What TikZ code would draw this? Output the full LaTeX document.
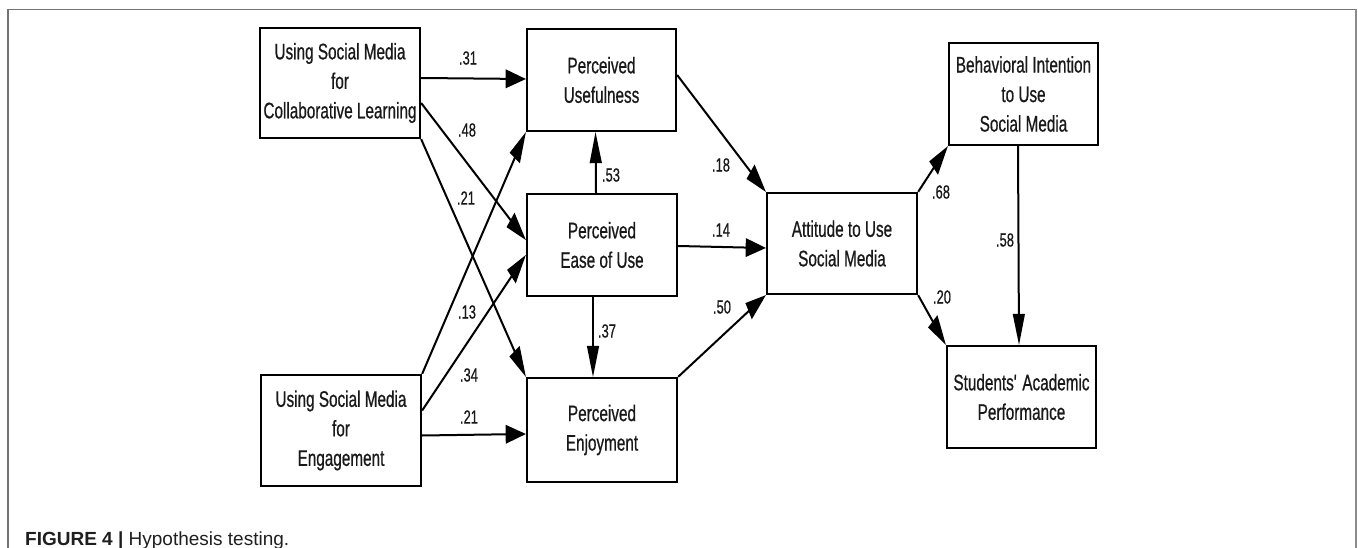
\documentclass[tikz,border=0pt]{standalone}
\usepackage{fontspec}
\setmainfont{Liberation Sans}[FakeStretch=0.68, FakeBold=0.6]
\newfontfamily\capfont{Liberation Sans}
\usetikzlibrary{calc}

\tikzset{
  construct/.style={draw=black, line width=2.3pt, inner sep=0pt, align=center,
    font=\fontsize{22.5}{29.5}\selectfont, text=black!90},
  coef/.style={font=\fontsize{19}{19}\selectfont, inner sep=0pt, text=black!90},
  conn/.style={line width=2pt, shorten >=12pt},
  frameline/.style={draw=black!55, line width=1.3pt},
}

% Path from #1 to #2 with a filled head whose shape follows the
% horizontally condensed layout (x squeezed by 0.65).
\newcommand{\headlink}[2]{%
  \draw[conn] (#1) -- (#2);
  \fill let \p1=(#1), \p2=(#2),
    \n1={(\x2-\x1)/65}, \n2={(\y2-\y1)/100}, \n3={veclen(\n1,\n2)},
    \n4={\n1/\n3}, \n5={\n2/\n3} in
    (\p2) -- ++({-0.65*(31*\n4+9.5*\n5)},{9.5*\n4-31*\n5})
          -- ++({0.65*19*\n5},{-19*\n4}) -- cycle;
}

\begin{document}
\begin{tikzpicture}[x=1pt,y=1pt]
\useasboundingbox (0,-548) rectangle (1358,0);
\fill[white] (0,-548) rectangle (1358,0);

% outer frame
\draw[frameline] (8,-548) -- (8,-9.5) -- (1355.5,-9.5);
\draw[frameline, line width=2pt, draw=black!45] (1355.5,-9.5) -- (1355.5,-548);

% constructs
\node[construct, minimum width=160pt, minimum height=110pt] (A) at (340,-83)
  {Using Social Media\\for\\Collaborative Learning};
\node[construct, minimum width=160pt, minimum height=111pt] (B) at (341,-430.5)
  {Using Social Media\\for\\Engagement};
\node[construct, minimum width=149pt, minimum height=102pt] (PU) at (601.5,-80)
  {Perceived\\Usefulness};
\node[construct, minimum width=150pt, minimum height=102pt] (PEOU) at (602,-245)
  {Perceived\\Ease of Use};
\node[construct, minimum width=150pt, minimum height=104pt] (PE) at (602,-430)
  {Perceived\\Enjoyment};
\node[construct, minimum width=150pt, minimum height=101pt] (ATT) at (842,-243.5)
  {Attitude to Use\\Social Media};
\node[construct, minimum width=149pt, minimum height=102pt] (BI) at (1023.5,-94)
  {Behavioral Intention\\to Use\\Social Media};
\node[construct, minimum width=149pt, minimum height=102pt] (SAP) at (1021.5,-397)
  {Students\textquotesingle\ Academic\\Performance};

% paths
\headlink{[yshift=5pt]A.east}{[yshift=1pt]PU.west}
\headlink{[yshift=-20pt]A.east}{[yshift=5pt]PEOU.west}
\headlink{A.south east}{PE.north west}
\headlink{B.north east}{PU.south west}
\headlink{[yshift=20pt]B.east}{[yshift=-10pt]PEOU.west}
\headlink{[yshift=-5pt]B.east}{[yshift=-4pt]PE.west}
\headlink{[xshift=-6pt]PEOU.north}{[xshift=-6pt]PU.south}
\headlink{[xshift=-9pt]PEOU.south}{[xshift=-9pt]PE.north}
\headlink{[yshift=5pt]PU.east}{ATT.north west}
\headlink{[yshift=-1pt]PEOU.east}{[yshift=-4.5pt]ATT.west}
\headlink{PE.north east}{ATT.south west}
\headlink{ATT.north east}{BI.south west}
\headlink{ATT.south east}{SAP.north west}
\headlink{[xshift=-5.5pt]BI.south}{[xshift=-2.5pt]SAP.north}

% path coefficients
\node[coef] (c31) at (468,-58) {.31};
\node[coef] (c48) at (467,-130) {.48};
\node[coef] (c21a) at (466,-198) {.21};
\node[coef] (c13) at (467,-312) {.13};
\node[coef] (c34) at (469,-375) {.34};
\node[coef] (c21b) at (469,-417) {.21};
\node[coef] (c53) at (611,-175) {.53};
\node[coef] (c37) at (607,-331) {.37};
\node[coef] (c18) at (721,-165) {.18};
\node[coef] (c14) at (721,-230) {.14};
\node[coef] (c50) at (722,-307) {.50};
\node[coef] (c68) at (941,-192) {.68};
\node[coef] (c20) at (942,-297) {.20};
\node[coef] (c58) at (1005,-240) {.58};

% caption
\node[anchor=base west, inner sep=0pt, font=\capfont\fontsize{19}{19}\selectfont,
  text=black!88] (cap) at (25,-545) {\textbf{FIGURE 4 |} Hypothesis testing.};
\end{tikzpicture}
\end{document}
